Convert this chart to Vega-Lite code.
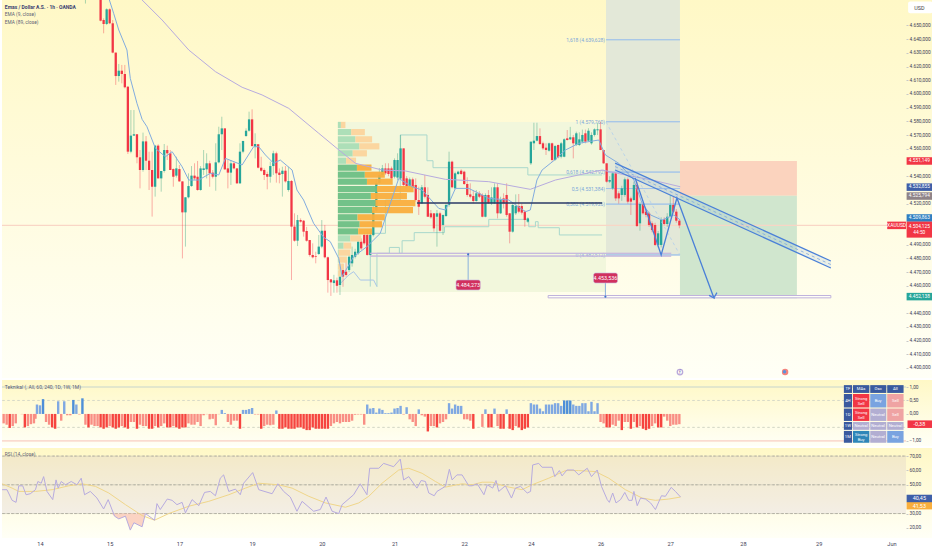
{"$schema":"https://vega.github.io/schema/vega-lite/v6.json","padding":0,"background":"#ffffff","spacing":2,"bounds":"flush",
"config":{"view":{"stroke":null},"text":{"font":"Roboto"},"axis":{"labelFont":"Roboto","labelFontSize":4.8,"labelColor":"#3d3d55","tickColor":"#c8c8c8","tickSize":2,"labelPadding":1,"domain":false,"grid":false,"labelOverlap":false}},
"datasets":{
"candles":[
{"t":15,"o":4680,"h":4682,"l":4666,"c":4680},
{"t":20,"o":4675,"h":4680,"l":4653,"c":4653.5},{"t":21,"o":4654,"h":4655.2,"l":4644.3,"c":4651.1},{"t":22,"o":4651.1,"h":4662.5,"l":4650.3,"c":4661.8},{"t":23,"o":4661.8,"h":4662.5,"l":4651,"c":4651.6},{"t":24,"o":4651.6,"h":4654,"l":4629.7,"c":4630.2},{"t":25,"o":4630.2,"h":4630.2,"l":4606.6,"c":4613.1},{"t":26,"o":4613.1,"h":4621.9,"l":4609,"c":4617},{"t":27,"o":4617,"h":4621.2,"l":4607.8,"c":4614.6},{"t":28,"o":4614.6,"h":4621.2,"l":4604.1,"c":4604.9},{"t":29,"o":4605.3,"h":4605.8,"l":4556.2,"c":4557.9},
{"t":30,"o":4557.9,"h":4588.3,"l":4556.7,"c":4569.6},{"t":31,"o":4569.6,"h":4588.3,"l":4569.5,"c":4570.6},{"t":32,"o":4570.6,"h":4570.6,"l":4549.4,"c":4553.8},{"t":33,"o":4553.8,"h":4559.1,"l":4531.1,"c":4544.5},{"t":34,"o":4544.5,"h":4571.8,"l":4543.3,"c":4565.4},{"t":35,"o":4565.4,"h":4569.3,"l":4544.5,"c":4551.3},{"t":36,"o":4551.3,"h":4557.9,"l":4529.9,"c":4544.5},{"t":37,"o":4544.5,"h":4557.9,"l":4510.5,"c":4532.3},{"t":38,"o":4532.3,"h":4562.8,"l":4525.1,"c":4562.3},{"t":39,"o":4562.3,"h":4563.3,"l":4538.4,"c":4538.4},
{"t":40,"o":4538.4,"h":4543.8,"l":4528.7,"c":4543.8},{"t":41,"o":4543.8,"h":4563.5,"l":4542.6,"c":4559.1},{"t":42,"o":4559.1,"h":4562.3,"l":4551.8,"c":4556.7},{"t":43,"o":4556.7,"h":4559.1,"l":4544.5,"c":4544.5},{"t":44,"o":4545.2,"h":4545.7,"l":4532.3,"c":4539.6},{"t":45,"o":4540.4,"h":4554.2,"l":4539,"c":4545.7},{"t":46,"o":4545.2,"h":4548.2,"l":4536,"c":4536.2},{"t":47,"o":4536.2,"h":4536.2,"l":4480,"c":4513.6},{"t":48,"o":4513.6,"h":4524.6,"l":4488.6,"c":4524.6},{"t":49,"o":4524.6,"h":4542.1,"l":4523.8,"c":4532.8},
{"t":50,"o":4532.8,"h":4547.4,"l":4532.3,"c":4540.4},{"t":51,"o":4540.4,"h":4549.4,"l":4537.2,"c":4538.4},{"t":52,"o":4539.6,"h":4551.1,"l":4529.4,"c":4529.9},{"t":53,"o":4529.9,"h":4547.4,"l":4529.4,"c":4545.7},{"t":54,"o":4544.5,"h":4559.1,"l":4540.9,"c":4545.7},{"t":55,"o":4545,"h":4556.7,"l":4538.4,"c":4549.4},{"t":56,"o":4549.4,"h":4551.3,"l":4532.3,"c":4542.1},{"t":57,"o":4542.6,"h":4544.5,"l":4538.4,"c":4539.6},{"t":58,"o":4539.6,"h":4564,"l":4529.4,"c":4550.1},{"t":59,"o":4550.1,"h":4576.1,"l":4549.4,"c":4570.6},
{"t":60,"o":4570.6,"h":4583.4,"l":4559.1,"c":4574.9},{"t":61,"o":4574.9,"h":4574.9,"l":4544.5,"c":4545},{"t":62,"o":4545.7,"h":4551.8,"l":4531.1,"c":4542.6},{"t":63,"o":4542.6,"h":4551.8,"l":4533.6,"c":4549.4},{"t":64,"o":4549.4,"h":4550.6,"l":4545,"c":4545.7},{"t":65,"o":4545.7,"h":4545.7,"l":4534.3,"c":4534.8},{"t":66,"o":4534.8,"h":4564,"l":4534.3,"c":4557.9},{"t":67,"o":4557.9,"h":4565.9,"l":4556.7,"c":4565.7},{"t":68,"o":4569.3,"h":4574.9,"l":4568.8,"c":4573.2},{"t":69,"o":4573.2,"h":4587.1,"l":4572.5,"c":4581.5},
{"t":70,"o":4581.5,"h":4588.8,"l":4561.5,"c":4562},{"t":71,"o":4561.5,"h":4571.3,"l":4553,"c":4563.5},{"t":72,"o":4563.3,"h":4563.5,"l":4545.7,"c":4546.2},{"t":73,"o":4546.2,"h":4554.2,"l":4543.3,"c":4544},{"t":74,"o":4544.5,"h":4545.7,"l":4537.2,"c":4540.9},{"t":75,"o":4541.6,"h":4543.3,"l":4530.4,"c":4539.6},{"t":76,"o":4539.6,"h":4550.6,"l":4535.3,"c":4547.4},{"t":77,"o":4547.4,"h":4558.6,"l":4540.9,"c":4556.7},{"t":78,"o":4556.7,"h":4557.9,"l":4535.3,"c":4542.1},{"t":79,"o":4542.6,"h":4545.7,"l":4534.8,"c":4540.9},
{"t":80,"o":4541.6,"h":4546.9,"l":4525.1,"c":4544},{"t":81,"o":4544,"h":4547.4,"l":4535.3,"c":4536.2},{"t":82,"o":4529.9,"h":4546.9,"l":4528.7,"c":4536.5},{"t":83,"o":4536.5,"h":4537.2,"l":4464.2,"c":4503.2},{"t":84,"o":4503.2,"h":4512.9,"l":4492.2,"c":4492.9},{"t":85,"o":4492.9,"h":4511.7,"l":4489,"c":4508},{"t":86,"o":4508,"h":4509.2,"l":4506.1,"c":4506.8},{"t":87,"o":4507.5,"h":4508,"l":4495.9,"c":4499.5},{"t":88,"o":4500,"h":4503,"l":4492.2,"c":4492.9},{"t":89,"o":4493.4,"h":4493.4,"l":4481.3,"c":4482.5},
{"t":90,"o":4482.5,"h":4491,"l":4480,"c":4480.8},{"t":91,"o":4481.5,"h":4484.9,"l":4476.4,"c":4481},{"t":92,"o":4483.2,"h":4497.1,"l":4482.5,"c":4488.6},{"t":93,"o":4488.6,"h":4508,"l":4487.4,"c":4500.2},{"t":94,"o":4500.2,"h":4504.4,"l":4480,"c":4480.8},{"t":95,"o":4480.8,"h":4481.3,"l":4455,"c":4464.2},{"t":96,"o":4464.7,"h":4464.7,"l":4452.6,"c":4462.5},{"t":97,"o":4462,"h":4468,"l":4455,"c":4464},{"t":98,"o":4464,"h":4466,"l":4455,"c":4460},{"t":99,"o":4460.6,"h":4474,"l":4453.3,"c":4466.7},
{"t":100,"o":4471.5,"h":4476,"l":4459.3,"c":4466.7},{"t":101,"o":4470.3,"h":4478.8,"l":4466.7,"c":4467.9},{"t":102,"o":4471.5,"h":4483,"l":4470,"c":4481.2},{"t":103,"o":4476.4,"h":4488.6,"l":4474,"c":4482.5},{"t":104,"o":4481.2,"h":4487,"l":4480,"c":4484.9},{"t":105,"o":4483.7,"h":4493.4,"l":4482.5,"c":4492.2},{"t":106,"o":4492.2,"h":4494.6,"l":4486.1,"c":4487.3},{"t":107,"o":4497.1,"h":4499,"l":4490,"c":4491},{"t":108,"o":4497.1,"h":4499,"l":4482,"c":4482.5},{"t":109,"o":4482.5,"h":4500,"l":4482,"c":4497.1},
{"t":110,"o":4497,"h":4518,"l":4496,"c":4515},{"t":111,"o":4515,"h":4538,"l":4514,"c":4535},{"t":112,"o":4535,"h":4546,"l":4534,"c":4540.9},{"t":113,"o":4540.9,"h":4548.2,"l":4540,"c":4545.7},{"t":114,"o":4545.7,"h":4549.4,"l":4541,"c":4542.1},{"t":115,"o":4545.7,"h":4549.4,"l":4540,"c":4541.6},{"t":116,"o":4545.7,"h":4547,"l":4537,"c":4538.4},{"t":117,"o":4539.6,"h":4553,"l":4538.4,"c":4551.8},{"t":118,"o":4539,"h":4556.7,"l":4537,"c":4551.8},{"t":119,"o":4538.4,"h":4570.1,"l":4537.2,"c":4560.3},
{"t":120,"o":4560.3,"h":4560.3,"l":4532.3,"c":4533.6},{"t":121,"o":4538.4,"h":4540,"l":4531,"c":4532.8},{"t":122,"o":4532.8,"h":4539,"l":4532,"c":4537.7},{"t":123,"o":4537.7,"h":4539,"l":4531,"c":4531.9},{"t":124,"o":4533.6,"h":4538.4,"l":4521.4,"c":4522.6},{"t":125,"o":4522.6,"h":4532.3,"l":4511.7,"c":4517.7},{"t":126,"o":4520.2,"h":4533.6,"l":4519.7,"c":4531.9},{"t":127,"o":4531.9,"h":4540.9,"l":4523.8,"c":4525},{"t":128,"o":4526.3,"h":4531.9,"l":4510.4,"c":4510.4},{"t":129,"o":4512.9,"h":4515.3,"l":4509,"c":4510},
{"t":130,"o":4512.9,"h":4512.9,"l":4499.5,"c":4501.9},{"t":131,"o":4510.4,"h":4515.3,"l":4488.6,"c":4512.9},{"t":132,"o":4512.9,"h":4514.1,"l":4499.5,"c":4500.2},{"t":133,"o":4504.4,"h":4512,"l":4497.1,"c":4511.7},{"t":134,"o":4510.9,"h":4520.2,"l":4510.4,"c":4519},{"t":135,"o":4519,"h":4557.9,"l":4517.7,"c":4550.6},{"t":136,"o":4550.6,"h":4551.3,"l":4531.1,"c":4531.9},{"t":137,"o":4531.1,"h":4543.3,"l":4530.4,"c":4542.1},{"t":138,"o":4541.6,"h":4544,"l":4540.9,"c":4543.3},{"t":139,"o":4544,"h":4545,"l":4540.9,"c":4541.6},
{"t":140,"o":4543.3,"h":4544,"l":4533.6,"c":4534.3},{"t":141,"o":4534.3,"h":4539.2,"l":4525,"c":4526.3},{"t":142,"o":4526.7,"h":4534.8,"l":4523.8,"c":4525},{"t":143,"o":4525.5,"h":4529.9,"l":4520.2,"c":4521.9},{"t":144,"o":4521.9,"h":4529.9,"l":4521.4,"c":4527.5},{"t":145,"o":4527.5,"h":4529,"l":4524,"c":4525},{"t":146,"o":4526.3,"h":4527.5,"l":4510,"c":4510.4},{"t":147,"o":4510.4,"h":4527.5,"l":4510,"c":4526.3},{"t":148,"o":4526.3,"h":4529.9,"l":4519.7,"c":4520.2},{"t":149,"o":4520.2,"h":4531.9,"l":4519,"c":4524.5},
{"t":150,"o":4520.2,"h":4534.8,"l":4519.7,"c":4531.9},{"t":151,"o":4531.9,"h":4534.8,"l":4509.2,"c":4512.9},{"t":152,"o":4512.9,"h":4525,"l":4512.4,"c":4522.6},{"t":153,"o":4523.8,"h":4527.5,"l":4516.5,"c":4520.2},{"t":154,"o":4526.3,"h":4534.8,"l":4510.4,"c":4511.7},{"t":155,"o":4512.9,"h":4512.9,"l":4491,"c":4499.5},{"t":156,"o":4499.5,"h":4520.2,"l":4498.8,"c":4519},{"t":157,"o":4512.9,"h":4526.7,"l":4511.7,"c":4518.2},{"t":158,"o":4518.2,"h":4527,"l":4512.9,"c":4514.1},{"t":159,"o":4518.2,"h":4520,"l":4512,"c":4513.4},
{"t":160,"o":4514.1,"h":4515.3,"l":4503.1,"c":4508},{"t":161,"o":4506.8,"h":4510,"l":4506,"c":4509.2},{"t":162,"o":4549.4,"h":4565.2,"l":4548.2,"c":4565.2},{"t":163,"o":4564,"h":4579,"l":4559.1,"c":4565.9},{"t":164,"o":4565.9,"h":4579,"l":4565.4,"c":4569.3},{"t":165,"o":4569.3,"h":4574.9,"l":4562.8,"c":4563.5},{"t":166,"o":4564,"h":4565.2,"l":4559.1,"c":4560.3},{"t":167,"o":4560.8,"h":4564,"l":4555.5,"c":4559.1},{"t":168,"o":4558.6,"h":4564.5,"l":4557.9,"c":4564},{"t":169,"o":4564,"h":4564.5,"l":4550.6,"c":4551.8},
{"t":170,"o":4551.8,"h":4562.8,"l":4551.3,"c":4562},{"t":171,"o":4562.8,"h":4563,"l":4553,"c":4553.8},{"t":172,"o":4554.2,"h":4565,"l":4553,"c":4564},{"t":173,"o":4554.2,"h":4567.6,"l":4553.8,"c":4566.9},{"t":174,"o":4567.6,"h":4573.7,"l":4566,"c":4566.4},{"t":175,"o":4566.9,"h":4576,"l":4566.4,"c":4568.4},{"t":176,"o":4568.4,"h":4570.1,"l":4553,"c":4564},{"t":177,"o":4562.8,"h":4572.5,"l":4562,"c":4571.3},{"t":178,"o":4562.8,"h":4572,"l":4562,"c":4566.9},{"t":179,"o":4565.2,"h":4574,"l":4564,"c":4570.1},
{"t":180,"o":4571.3,"h":4574,"l":4564,"c":4565.2},{"t":181,"o":4565.9,"h":4575,"l":4565,"c":4573.2},{"t":182,"o":4564,"h":4572,"l":4563,"c":4570.1},{"t":183,"o":4570.1,"h":4574.9,"l":4569,"c":4574.2},{"t":184,"o":4573.5,"h":4579,"l":4570,"c":4574.2},{"t":185,"o":4574.2,"h":4579.7,"l":4559,"c":4559.1},{"t":186,"o":4559.1,"h":4559.1,"l":4549,"c":4549.4},{"t":187,"o":4549.4,"h":4549.4,"l":4535.3,"c":4536},{"t":188,"o":4536,"h":4540,"l":4535,"c":4537.2},{"t":189,"o":4531.1,"h":4543,"l":4530,"c":4542.1},
{"t":190,"o":4542.1,"h":4543,"l":4522,"c":4523.8},{"t":191,"o":4527.5,"h":4529,"l":4520,"c":4523.8},{"t":192,"o":4526.3,"h":4533,"l":4522,"c":4531.1},{"t":193,"o":4526.3,"h":4539,"l":4525,"c":4537.7},{"t":194,"o":4537.7,"h":4539,"l":4520,"c":4521.4},{"t":195,"o":4523.8,"h":4525,"l":4511.7,"c":4521.4},{"t":196,"o":4522.6,"h":4536,"l":4522,"c":4533.6},{"t":197,"o":4533.6,"h":4536,"l":4503,"c":4503.6},{"t":198,"o":4505.6,"h":4521,"l":4500.2,"c":4519.7},{"t":199,"o":4519.7,"h":4521,"l":4512,"c":4512.9},
{"t":200,"o":4514.1,"h":4516,"l":4510,"c":4511.7},{"t":201,"o":4512.9,"h":4514,"l":4503,"c":4504.4},{"t":202,"o":4505.6,"h":4507,"l":4499,"c":4500.7},{"t":203,"o":4504.4,"h":4506,"l":4489,"c":4489.8},{"t":204,"o":4489.8,"h":4500,"l":4488,"c":4498.3},{"t":205,"o":4489.8,"h":4510,"l":4488,"c":4508},{"t":206,"o":4508.5,"h":4510,"l":4504,"c":4505.1},{"t":207,"o":4505.1,"h":4513,"l":4503,"c":4510.4},{"t":208,"o":4510.4,"h":4526.3,"l":4510,"c":4519},{"t":209,"o":4519,"h":4525,"l":4513,"c":4514.1},{"t":210,"o":4514.1,"h":4516,"l":4506,"c":4507.5},{"t":211,"o":4507.5,"h":4508,"l":4502,"c":4504.1}],
"ema9":[{"t":22.9,"p":4668.6},{"t":24.3,"p":4658.9},{"t":26,"p":4646.7},{"t":28.7,"p":4632.1},{"t":29.8,"p":4611.4},{"t":32,"p":4593.2},{"t":33.7,"p":4581.5},{"t":35.3,"p":4576.1},{"t":38.1,"p":4560.3},{"t":41.4,"p":4554.2},{"t":43.6,"p":4557.9},{"t":46.9,"p":4546.9},{"t":49.1,"p":4537.2},{"t":52.4,"p":4537.2},{"t":56.2,"p":4542.1},{"t":59,"p":4540.9},{"t":61.2,"p":4553},{"t":66.7,"p":4548.2},{"t":70.5,"p":4561.5},{"t":72.2,"p":4561.5},{"t":74.4,"p":4555.5},{"t":77.1,"p":4549.4},{"t":79.3,"p":4551.8},{"t":83.2,"p":4544.5},{"t":84.8,"p":4529.9},{"t":87,"p":4522.6},{"t":90.3,"p":4505.6},{"t":93.6,"p":4495.4},{"t":95.8,"p":4492.2},{"t":98.6,"p":4480},{"t":99.7,"p":4466.7},{"t":103.5,"p":4481.2},{"t":107.9,"p":4488.6},{"t":112.3,"p":4498.3},{"t":118.4,"p":4538.4},{"t":122.8,"p":4532.3},{"t":126.1,"p":4529.9},{"t":131.6,"p":4516.5},{"t":133.8,"p":4515.3},{"t":135.4,"p":4522.6},{"t":137.1,"p":4531.1},{"t":141.5,"p":4531.1},{"t":144.8,"p":4527.5},{"t":148.1,"p":4523.8},{"t":154.7,"p":4522.6},{"t":160.2,"p":4514.1},{"t":161.8,"p":4515.3},{"t":164,"p":4537.2},{"t":165.7,"p":4544.5},{"t":170.1,"p":4552.3},{"t":173.4,"p":4559.1},{"t":177.8,"p":4564},{"t":184.4,"p":4566.4},{"t":186.6,"p":4555.5},{"t":191,"p":4549.4},{"t":196,"p":4537.2},{"t":198.7,"p":4520.2},{"t":201.5,"p":4511.7},{"t":205.3,"p":4508},{"t":209.2,"p":4511.7},{"t":211.3,"p":4508}],
"ema89":[{"t":33.7,"p":4668.6},{"t":40.3,"p":4654},{"t":49.1,"p":4632.1},{"t":57.9,"p":4616.3},{"t":66.7,"p":4604.9},{"t":73.3,"p":4599.3},{"t":82.1,"p":4589.5},{"t":92,"p":4571.3},{"t":98,"p":4560.3},{"t":104.1,"p":4549.4},{"t":112.9,"p":4544.5},{"t":120.6,"p":4543.8},{"t":133.8,"p":4537.7},{"t":148.1,"p":4536},{"t":161.8,"p":4530.4},{"t":170.1,"p":4537.2},{"t":177.8,"p":4540.9},{"t":185.5,"p":4544.5},{"t":193.2,"p":4540.9},{"t":202,"p":4537.2},{"t":211.3,"p":4532.3}],
"steps":[{"id":"a","i":0,"t":109,"p":4459.4},{"id":"a","i":1,"t":109,"p":4498.3},{"id":"a","i":2,"t":114,"p":4498.3},{"id":"a","i":3,"t":114,"p":4522.6},{"id":"a","i":4,"t":118.9,"p":4522.6},{"id":"a","i":5,"t":118.9,"p":4570.1},{"id":"a","i":6,"t":127.7,"p":4570.1},{"id":"a","i":7,"t":127.7,"p":4551.3},{"id":"a","i":8,"t":129.7,"p":4551.3},{"id":"a","i":9,"t":129.7,"p":4546.2},{"id":"a","i":10,"t":161,"p":4546.2},{"id":"a","i":11,"t":161,"p":4540.9},{"id":"a","i":12,"t":185.5,"p":4540.9},
{"id":"b","i":0,"t":111.2,"p":4459.4},{"id":"b","i":1,"t":111.2,"p":4483.7},{"id":"b","i":2,"t":115.3,"p":4483.7},{"id":"b","i":3,"t":115.3,"p":4488},{"id":"b","i":4,"t":118.6,"p":4488},{"id":"b","i":5,"t":118.6,"p":4483.7},{"id":"b","i":6,"t":119.5,"p":4483.7},{"id":"b","i":7,"t":119.5,"p":4492.9},{"id":"b","i":8,"t":123.5,"p":4492.9},{"id":"b","i":9,"t":123.5,"p":4498.8},{"id":"b","i":10,"t":133.5,"p":4498.8},{"id":"b","i":11,"t":133.5,"p":4503.1},{"id":"b","i":12,"t":148.1,"p":4503.1},{"id":"b","i":13,"t":148.1,"p":4508.5},{"id":"b","i":14,"t":161.3,"p":4508.5},{"id":"b","i":15,"t":161.3,"p":4503.1},{"id":"b","i":16,"t":163.5,"p":4503.1},{"id":"b","i":17,"t":163.5,"p":4506.8},{"id":"b","i":18,"t":164.4,"p":4506.8},{"id":"b","i":19,"t":164.4,"p":4502.4},{"id":"b","i":20,"t":171.4,"p":4502.4},{"id":"b","i":21,"t":171.4,"p":4497.1},{"id":"b","i":22,"t":185.5,"p":4497.1},
{"id":"c","i":0,"t":98.6,"p":4460.6},{"id":"c","i":1,"t":101.9,"p":4467.9},{"id":"c","i":2,"t":103.5,"p":4470.3},{"id":"c","i":3,"t":105.7,"p":4464.2},{"id":"c","i":4,"t":110.1,"p":4464.2},{"id":"c","i":5,"t":111.2,"p":4459.4}],
"blue":[{"id":"z","i":0,"t":196.4,"p":4538.7},{"id":"z","i":1,"t":205,"p":4482.5},{"id":"z","i":2,"t":210.2,"p":4524.1},{"id":"z","i":3,"t":222.4,"p":4451.1},{"id":"z","i":4,"t":220.8,"p":4453},{"id":"z","i":5,"t":222.4,"p":4451.1},{"id":"z","i":6,"t":223.4,"p":4455},{"id":"u","i":0,"t":189.8,"p":4549.6},{"id":"u","i":1,"t":261,"p":4478.1},{"id":"l","i":0,"t":189.8,"p":4544.5},{"id":"l","i":1,"t":261,"p":4473}],
"channel":[{"t":189.8,"p":4549.6,"q":4544.5},{"t":261,"p":4478.1,"q":4473}],
"boxes":[{"k":"vp","t":98.3,"t2":186.8,"p":4579.6,"p2":4455.5},{"k":"fib","t":186.8,"t2":211.2,"p":4668.6,"p2":4482.5},{"k":"short","t":211.2,"t2":249.8,"p":4551.1,"p2":4525.8},{"k":"long","t":211.2,"t2":249.8,"p":4525.8,"p2":4451}],
"vol":[{"hi":4579.66,"lo":4575.14,"g":99.3,"o":100.8,"a":"out"},{"hi":4574.46,"lo":4569.94,"g":102.7,"o":107.2,"a":"out"},{"hi":4569.16,"lo":4564.64,"g":104.1,"o":109.6,"a":"out"},{"hi":4564.06,"lo":4559.54,"g":105.4,"o":112,"a":"out"},{"hi":4558.96,"lo":4554.44,"g":103.2,"o":107.9,"a":"out"},{"hi":4553.56,"lo":4549.04,"g":101,"o":104.3,"a":"out"},{"hi":4548.46,"lo":4543.94,"g":104.6,"o":109.4,"a":"in"},{"hi":4543.36,"lo":4538.84,"g":107.2,"o":113.8,"a":"in"},{"hi":4538.26,"lo":4533.74,"g":107.9,"o":116.4,"a":"in"},{"hi":4532.86,"lo":4528.34,"g":111.2,"o":123.3,"a":"in"},{"hi":4527.76,"lo":4523.24,"g":109.2,"o":121.1,"a":"in"},{"hi":4522.66,"lo":4518.14,"g":110.7,"o":123.9,"a":"in"},{"hi":4517.56,"lo":4513.04,"g":109.6,"o":123.1,"a":"in"},{"hi":4512.26,"lo":4507.74,"g":104.8,"o":113.8,"a":"in"},{"hi":4507.16,"lo":4502.64,"g":105.5,"o":112.9,"a":"in"},{"hi":4501.96,"lo":4497.44,"g":105,"o":109.6,"a":"in"},{"hi":4496.86,"lo":4492.34,"g":102.4,"o":106,"a":"out"},{"hi":4491.56,"lo":4487.04,"g":100.2,"o":102.7,"a":"out"},{"hi":4486.46,"lo":4481.94,"g":98.6,"o":102.4,"a":"out"},{"hi":4481.36,"lo":4476.84,"g":98.6,"o":101.3,"a":"out"},{"hi":4476.26,"lo":4471.74,"g":98.4,"o":100.2,"a":"out"},{"hi":4471.36,"lo":4466.84,"g":98.4,"o":99.5,"a":"out"}],
"fibs":[{"p":4639.6,"l":"1,618 (4.639,628)"},{"p":4579.76,"l":"1 (4.579,760)"},{"p":4543,"l":"0,618 (4.542,792)"},{"p":4531,"l":"0,5 (4.531,384)"},{"p":4519.6,"l":"0,382 (4.519,926)"},{"p":4482.5,"l":"0 (4.482,512)"}],
"tags":[{"hi":4553.84,"lo":4548.36,"p":4551.1,"l":"4.551,149","k":"red"},{"hi":4534.74,"lo":4529.26,"p":4532,"l":"4.532,855","k":"navy"},{"hi":4528.24,"lo":4522.76,"p":4525.5,"l":"4.525,794","k":"grey"},{"hi":4512.24,"lo":4506.76,"p":4509.5,"l":"4.509,863","k":"blue"},{"hi":4454.84,"lo":4449.36,"p":4452.1,"l":"4.452,138","k":"teal"}],
"osc":[{"t":-12,"v":-0.35},{"t":-11,"v":-0.4},{"t":-10,"v":-0.52},{"t":-9,"v":-0.45},{"t":-8,"v":-0.35},{"t":-6,"v":-0.01},{"t":-5,"v":-0.5},{"t":-4,"v":-0.45},{"t":-3,"v":-0.38},{"t":-2,"v":-0.35},{"t":-1.5,"v":-0.18},{"t":-1,"v":0.35},{"t":0,"v":0.32},{"t":1,"v":0.55},{"t":2,"v":-0.3},{"t":3,"v":-0.4},{"t":4,"v":-0.5},{"t":5,"v":-0.55},{"t":6,"v":0.47},{"t":7,"v":-0.25},{"t":8,"v":0.47},{"t":9,"v":-0.05},{"t":10,"v":-0.05},{"t":11,"v":0.52},{"t":12,"v":0.35},{"t":13,"v":-0.02},{"t":14,"v":0.58},{"t":15,"v":-0.4},{"t":16,"v":-0.5},{"t":17,"v":-0.4},{"t":18,"v":-0.45},{"t":19,"v":-0.45},{"t":20,"v":-0.5},{"t":21,"v":-0.55},{"t":22,"v":-0.5},{"t":23,"v":-0.45},{"t":24,"v":-0.5},{"t":25,"v":-0.55},{"t":26,"v":-0.5},{"t":27,"v":-0.45},{"t":28,"v":-0.5},{"t":29,"v":-0.55},{"t":30,"v":-0.3},{"t":31,"v":-0.3},{"t":32,"v":-0.55},{"t":33,"v":-0.4},{"t":34,"v":-0.45},{"t":35,"v":-0.45},{"t":36,"v":-0.55},{"t":37,"v":-0.55},{"t":38,"v":-0.45},{"t":39,"v":-0.5},{"t":40,"v":-0.45},{"t":41,"v":-0.35},{"t":42,"v":-0.5},{"t":43,"v":-0.5},{"t":44,"v":-0.45},{"t":45,"v":-0.5},{"t":46,"v":-0.55},{"t":47,"v":-0.5},{"t":48,"v":-0.5},{"t":49,"v":-0.35},{"t":50,"v":-0.4},{"t":51,"v":-0.4},{"t":52,"v":-0.3},{"t":53,"v":-0.45},{"t":54,"v":-0.05},{"t":55,"v":-0.01},{"t":56,"v":-0.2},{"t":57,"v":-0.18},{"t":58,"v":-0.42},{"t":59,"v":-0.01},{"t":60,"v":0.15},{"t":61,"v":0.03},{"t":62,"v":-0.3},{"t":63,"v":-0.4},{"t":64,"v":-0.25},{"t":65,"v":-0.25},{"t":66,"v":-0.55},{"t":67,"v":0.15},{"t":68,"v":0.15},{"t":69,"v":0.18},{"t":70,"v":0.22},{"t":71,"v":-0.02},{"t":72,"v":-0.02},{"t":73,"v":-0.55},{"t":74,"v":-0.45},{"t":75,"v":-0.4},{"t":76,"v":-0.42},{"t":77,"v":-0.4},{"t":78,"v":0.13},{"t":79,"v":-0.55},{"t":80,"v":-0.55},{"t":81,"v":-0.5},{"t":82,"v":-0.55},{"t":83,"v":-0.55},{"t":84,"v":-0.55},{"t":85,"v":-0.5},{"t":86,"v":-0.5},{"t":87,"v":-0.55},{"t":88,"v":-0.6},{"t":89,"v":-0.6},{"t":90,"v":-0.5},{"t":91,"v":-0.55},{"t":92,"v":-0.55},{"t":93,"v":-0.55},{"t":94,"v":-0.55},{"t":95,"v":-0.55},{"t":96,"v":-0.45},{"t":97,"v":-0.35},{"t":98,"v":-0.3},{"t":99,"v":-0.35},{"t":100,"v":-0.3},{"t":101,"v":-0.3},{"t":102,"v":-0.3},{"t":103,"v":-0.25},{"t":104,"v":-0.03},{"t":105,"v":-0.02},{"t":106,"v":-0.02},{"t":107,"v":-0.4},{"t":108,"v":0.35},{"t":109,"v":0.2},{"t":110,"v":0.22},{"t":111,"v":0.05},{"t":112,"v":0.2},{"t":113,"v":0.15},{"t":114,"v":0.03},{"t":115,"v":0.03},{"t":116,"v":0.05},{"t":117,"v":0.2},{"t":118,"v":0.22},{"t":119,"v":0.3},{"t":120,"v":-0.02},{"t":121,"v":0.25},{"t":122,"v":-0.2},{"t":123,"v":-0.3},{"t":124,"v":-0.45},{"t":125,"v":0.17},{"t":126,"v":-0.05},{"t":127,"v":-0.1},{"t":128,"v":-0.65},{"t":129,"v":-0.45},{"t":130,"v":-0.45},{"t":131,"v":-0.5},{"t":132,"v":-0.35},{"t":133,"v":-0.3},{"t":134,"v":-0.2},{"t":135,"v":0.4},{"t":136,"v":0.2},{"t":137,"v":0.35},{"t":138,"v":0.3},{"t":139,"v":0.3},{"t":140,"v":-0.2},{"t":141,"v":-0.2},{"t":142,"v":-0.25},{"t":143,"v":-0.55},{"t":146,"v":-0.48},{"t":147,"v":0.17},{"t":148,"v":-0.5},{"t":149,"v":-0.5},{"t":150,"v":0.2},{"t":151,"v":-0.45},{"t":152,"v":-0.55},{"t":153,"v":-0.55},{"t":154,"v":0.17},{"t":155,"v":-0.55},{"t":156,"v":-0.6},{"t":157,"v":-0.45},{"t":158,"v":-0.5},{"t":159,"v":-0.6},{"t":160,"v":-0.55},{"t":161,"v":-0.5},{"t":162,"v":0.4},{"t":163,"v":0.35},{"t":164,"v":0.35},{"t":165,"v":0.2},{"t":166,"v":0.1},{"t":167,"v":0.35},{"t":168,"v":0.35},{"t":169,"v":0.35},{"t":170,"v":0.4},{"t":171,"v":0.4},{"t":172,"v":0.3},{"t":173,"v":0.5},{"t":174,"v":0.5},{"t":175,"v":0.5},{"t":176,"v":0.35},{"t":177,"v":0.3},{"t":178,"v":0.3},{"t":179,"v":0.4},{"t":180,"v":0.4},{"t":181,"v":0.1},{"t":182,"v":0.45},{"t":183,"v":0.1},{"t":184,"v":0.4},{"t":185,"v":-0.3},{"t":186,"v":-0.35},{"t":187,"v":-0.5},{"t":188,"v":-0.5},{"t":189,"v":-0.4},{"t":190,"v":-0.45},{"t":191,"v":-0.25},{"t":192,"v":-0.6},{"t":193,"v":-0.3},{"t":194,"v":-0.3},{"t":195,"v":-0.55},{"t":196,"v":-0.3},{"t":197,"v":-0.5},{"t":198,"v":-0.45},{"t":199,"v":-0.55},{"t":200,"v":-0.6},{"t":201,"v":-0.55},{"t":202,"v":-0.45},{"t":203,"v":-0.35},{"t":204,"v":-0.5},{"t":205,"v":-0.5},{"t":206,"v":-0.1},{"t":207,"v":-0.25},{"t":208,"v":-0.45},{"t":209,"v":-0.4},{"t":210,"v":-0.4},{"t":211,"v":-0.38}],
"cells":[{"k":"nav","l":"TF","t":265.3,"t2":268,"v":1.07,"v2":0.78,"tc":266.6,"vc":0.92},{"k":"nav","l":"MAs","t":268.3,"t2":273.7,"v":1.07,"v2":0.78,"tc":271,"vc":0.92},{"k":"nav","l":"Osc","t":274,"t2":279.3,"v":1.07,"v2":0.78,"tc":276.6,"vc":0.92},{"k":"nav","l":"All","t":279.6,"t2":285,"v":1.07,"v2":0.78,"tc":282.3,"vc":0.92},
{"k":"nav","l":"4H","t":265.3,"t2":268,"v":0.74,"v2":0.24,"tc":266.6,"vc":0.49},{"k":"ss","l":"Strong\nSell","t":268.3,"t2":273.7,"v":0.74,"v2":0.24,"tc":271,"vc":0.55},{"k":"buy","l":"Buy","t":274,"t2":279.3,"v":0.74,"v2":0.24,"tc":276.6,"vc":0.49},{"k":"sell","l":"Sell","t":279.6,"t2":285,"v":0.74,"v2":0.24,"tc":282.3,"vc":0.49},
{"k":"nav","l":"1D","t":265.3,"t2":268,"v":0.2,"v2":-0.26,"tc":266.6,"vc":-0.03},{"k":"ss","l":"Strong\nSell","t":268.3,"t2":273.7,"v":0.2,"v2":-0.26,"tc":271,"vc":0.03},{"k":"neu","l":"Neutral","t":274,"t2":279.3,"v":0.2,"v2":-0.26,"tc":276.6,"vc":-0.03},{"k":"sell","l":"Sell","t":279.6,"t2":285,"v":0.2,"v2":-0.26,"tc":282.3,"vc":-0.03},
{"k":"nav","l":"1W","t":265.3,"t2":268,"v":-0.3,"v2":-0.59,"tc":266.6,"vc":-0.44},{"k":"neu","l":"Neutral","t":268.3,"t2":273.7,"v":-0.3,"v2":-0.59,"tc":271,"vc":-0.44},{"k":"neu","l":"Neutral","t":274,"t2":279.3,"v":-0.3,"v2":-0.59,"tc":276.6,"vc":-0.44},{"k":"neu","l":"Neutral","t":279.6,"t2":285,"v":-0.3,"v2":-0.59,"tc":282.3,"vc":-0.44},
{"k":"nav","l":"1M","t":265.3,"t2":268,"v":-0.63,"v2":-1.07,"tc":266.6,"vc":-0.85},{"k":"sb","l":"Strong\nBuy","t":268.3,"t2":273.7,"v":-0.63,"v2":-1.07,"tc":271,"vc":-0.79},{"k":"neu","l":"Neutral","t":274,"t2":279.3,"v":-0.63,"v2":-1.07,"tc":276.6,"vc":-0.85},{"k":"buy","l":"Buy","t":279.6,"t2":285,"v":-0.63,"v2":-1.07,"tc":282.3,"vc":-0.85}],
"rsi":[{"t":-12.5,"v":46.6},{"t":-10.9,"v":46.6},{"t":-9.2,"v":39.2},{"t":-7.9,"v":37.8},{"t":-7,"v":49.3},{"t":-5.7,"v":49.3},{"t":-4.6,"v":43.1},{"t":-3.2,"v":43.8},{"t":-1.5,"v":46.6},{"t":-0.7,"v":52.3},{"t":0.4,"v":51.1},{"t":1.2,"v":55.7},{"t":2.3,"v":45.4},{"t":4.2,"v":39.7},{"t":5.3,"v":53.4},{"t":6,"v":47.7},{"t":7,"v":52.3},{"t":8.4,"v":50},{"t":10.3,"v":52.3},{"t":12.2,"v":50},{"t":13.6,"v":54.6},{"t":14.7,"v":43.1},{"t":16.6,"v":45.4},{"t":18.8,"v":40.8},{"t":21,"v":33.2},{"t":22.5,"v":39.7},{"t":24.6,"v":28.2},{"t":26,"v":26.3},{"t":28.2,"v":28.2},{"t":29.8,"v":18.5},{"t":31,"v":23.6},{"t":33.7,"v":20.8},{"t":34.8,"v":30},{"t":37.8,"v":25.4},{"t":38.6,"v":36.9},{"t":39.7,"v":32.8},{"t":42,"v":40.1},{"t":43.6,"v":39.2},{"t":45.2,"v":36.2},{"t":46.9,"v":37.8},{"t":48,"v":30.5},{"t":50.2,"v":39.7},{"t":52.4,"v":35.5},{"t":54.3,"v":44.7},{"t":56.2,"v":45.4},{"t":57.9,"v":42.4},{"t":59.5,"v":54.6},{"t":60.6,"v":56.9},{"t":62.3,"v":45.4},{"t":64.5,"v":47},{"t":66.1,"v":43.1},{"t":67.2,"v":51.1},{"t":70.2,"v":58.5},{"t":72.2,"v":46.6},{"t":76.6,"v":43.8},{"t":78.5,"v":50.7},{"t":80.4,"v":45.4},{"t":82.6,"v":41.5},{"t":84.8,"v":31.6},{"t":86.5,"v":38.5},{"t":90.3,"v":31.6},{"t":92.5,"v":32.8},{"t":94.4,"v":41.5},{"t":96.4,"v":31.6},{"t":98.6,"v":30},{"t":99.7,"v":36.2},{"t":103.5,"v":43.1},{"t":105.7,"v":50.7},{"t":107.9,"v":43.1},{"t":108.8,"v":61.5},{"t":111.8,"v":61.5},{"t":113.4,"v":64.9},{"t":116.7,"v":62.6},{"t":118.9,"v":67.9},{"t":120,"v":53.4},{"t":121.7,"v":55.7},{"t":124.4,"v":47.7},{"t":125.8,"v":53},{"t":127.2,"v":52.3},{"t":128.3,"v":44.3},{"t":130.1,"v":42.4},{"t":131,"v":45.4},{"t":133.8,"v":48.9},{"t":135.1,"v":60.8},{"t":136,"v":53.4},{"t":137.6,"v":56.9},{"t":139.3,"v":56.9},{"t":141.5,"v":49.3},{"t":142.6,"v":49.3},{"t":144.3,"v":50.7},{"t":146.5,"v":43.1},{"t":147.6,"v":50},{"t":149.4,"v":47.7},{"t":150.5,"v":53},{"t":151.4,"v":45.4},{"t":153.6,"v":49.3},{"t":155.6,"v":40.8},{"t":156.9,"v":47.7},{"t":158.6,"v":48.9},{"t":160.8,"v":44.3},{"t":161.9,"v":45.4},{"t":162.6,"v":63.8},{"t":164.6,"v":64.9},{"t":165.7,"v":62.2},{"t":169,"v":62.2},{"t":169.9,"v":55.7},{"t":171.4,"v":59.9},{"t":172.3,"v":56.2},{"t":173.9,"v":60.3},{"t":176.2,"v":60.3},{"t":177.8,"v":56.9},{"t":180.6,"v":61.5},{"t":182,"v":55.7},{"t":183.9,"v":60.3},{"t":185.3,"v":48.9},{"t":187.2,"v":39.7},{"t":187.9,"v":37.8},{"t":189,"v":44.3},{"t":190.1,"v":37.4},{"t":191.6,"v":39.7},{"t":193,"v":44.7},{"t":194.3,"v":39.2},{"t":195.4,"v":39.2},{"t":196,"v":45.4},{"t":197.1,"v":35.5},{"t":198.2,"v":40.8},{"t":199.8,"v":40.1},{"t":201.5,"v":37.4},{"t":203.1,"v":32.8},{"t":205.1,"v":42.4},{"t":206.4,"v":42},{"t":208.3,"v":48.2},{"t":209.7,"v":45.4},{"t":211.4,"v":41.5}],
"signal":[{"t":-12.5,"v":50.7},{"t":-9.2,"v":47.7},{"t":-7,"v":45.4},{"t":-1.5,"v":45.4},{"t":4,"v":46.6},{"t":9.5,"v":49.3},{"t":13.9,"v":50.7},{"t":18.3,"v":48.9},{"t":22.7,"v":44.3},{"t":28.2,"v":36.2},{"t":33.7,"v":28.6},{"t":37.8,"v":25.4},{"t":42.5,"v":30},{"t":49.1,"v":35.1},{"t":55.7,"v":38.5},{"t":62.3,"v":43.1},{"t":67.8,"v":47.7},{"t":72.2,"v":51.1},{"t":78.8,"v":50},{"t":83.2,"v":47.7},{"t":88.7,"v":42},{"t":94.2,"v":37.4},{"t":100.8,"v":34.4},{"t":105.2,"v":37.4},{"t":108.5,"v":42},{"t":112.9,"v":51.1},{"t":118.4,"v":60.3},{"t":121.7,"v":61.5},{"t":126.1,"v":58},{"t":130.5,"v":52.3},{"t":133.8,"v":48.4},{"t":139.3,"v":50.7},{"t":142.6,"v":50},{"t":145.9,"v":51.8},{"t":149.2,"v":51.8},{"t":153.6,"v":48.9},{"t":159.1,"v":46.6},{"t":162.4,"v":50},{"t":167.9,"v":54.6},{"t":173.4,"v":59.9},{"t":177.8,"v":59.9},{"t":183.3,"v":59.2},{"t":187.7,"v":54.6},{"t":193.2,"v":46.6},{"t":198.7,"v":40.8},{"t":203.1,"v":39.2},{"t":207.5,"v":40.1},{"t":211.4,"v":41.5}],
"oversold":[{"t":23.6,"v":30},{"t":24.6,"v":28.2},{"t":26,"v":26.3},{"t":28.2,"v":28.2},{"t":29.8,"v":18.5},{"t":31,"v":23.6},{"t":33.7,"v":20.8},{"t":34.8,"v":30}]
},
"vconcat":[
{"width":904,"height":378,"encoding":{"x":{"type":"quantitative","title":null,"axis":null,"scale":{"domain":[-12.54,285.8],"nice":false,"zero":false}},"y":{"type":"quantitative","title":null,"scale":{"domain":[4392.7,4668.6],"nice":false,"zero":false},"axis":{"orient":"right","zindex":1,"values":[4400,4410,4420,4430,4440,4460,4470,4480,4490,4540,4520,4560,4570,4580,4590,4600,4610,4620,4630,4640,4650],"labelExpr":"'4.' + format(datum.value-4000,'03d') + ',000'"}}},
"layer":[
{"data":{"values":[{}]},"mark":{"type":"rect","clip":false,"fill":{"gradient":"linear","x1":0,"y1":0,"x2":0,"y2":1,"stops":[{"offset":0,"color":"#FFF8C6"},{"offset":1,"color":"#FFFFF6"}]}},"encoding":{"x":{"datum":-12.54},"x2":{"datum":295},"y":{"datum":4668.6},"y2":{"datum":4392.7}}},
{"data":{"name":"boxes"},"mark":{"type":"rect"},"encoding":{"x":{"field":"t"},"x2":{"field":"t2"},"y":{"field":"p"},"y2":{"field":"p2"},"fill":{"condition":[{"test":"datum.k=='vp'","value":"#F2F7DC"},{"test":"datum.k=='fib'","value":"#E3E8D8"},{"test":"datum.k=='short'","value":"#FBD3BE"}],"value":"#D0E6CE"}}},
{"data":{"values":[{}]},"mark":{"type":"rect","fill":"transparent","stroke":"#F9D5C5","strokeWidth":1},"encoding":{"x":{"datum":-12.54},"x2":{"datum":285.8},"y":{"datum":4504.1},"y2":{"datum":4504.1}}},
{"data":{"name":"fibs"},"mark":{"type":"rect","fill":"transparent","stroke":"#A6C6E8","strokeWidth":1},"encoding":{"x":{"datum":186.8},"x2":{"datum":211.2},"y":{"field":"p"},"y2":{"field":"p"}}},
{"data":{"name":"fibs"},"mark":{"type":"text","align":"right","baseline":"middle","dx":-1,"fontSize":5,"color":"#7BA7DA"},"encoding":{"x":{"datum":186.8},"y":{"field":"p"},"text":{"field":"l"}}},
{"data":{"name":"steps"},"transform":[{"filter":"datum.id!='c'"}],"mark":{"type":"line","color":"#A9D8CC","strokeWidth":1},"encoding":{"x":{"field":"t"},"y":{"field":"p"},"detail":{"field":"id"},"order":{"field":"i"}}},
{"data":{"name":"steps"},"transform":[{"filter":"datum.id=='c'"}],"mark":{"type":"line","color":"#A9C6E8","strokeWidth":1},"encoding":{"x":{"field":"t"},"y":{"field":"p"},"order":{"field":"i"}}},
{"data":{"name":"candles"},"mark":{"type":"rule","strokeWidth":1,"clip":true,"opacity":0.4},"encoding":{"x":{"field":"t"},"y":{"field":"h"},"y2":{"field":"l"},"color":{"condition":{"test":"datum.c<datum.o","value":"#F23645"},"value":"#2E9E7A"}}},
{"data":{"name":"candles"},"mark":{"type":"rule","strokeWidth":2.3,"clip":true},"encoding":{"x":{"field":"t"},"y":{"field":"o"},"y2":{"field":"c"},"color":{"condition":{"test":"datum.c<datum.o","value":"#F23645"},"value":"#26A69A"}}},
{"data":{"name":"vol"},"mark":{"type":"rect","opacity":0.95},"encoding":{"x":{"field":"g"},"x2":{"datum":98.3},"y":{"field":"hi"},"y2":{"field":"lo"},"fill":{"condition":{"test":"datum.a=='in'","value":"#6CBF84"},"value":"#A9DDB5"}}},
{"data":{"name":"vol"},"mark":{"type":"rect","opacity":0.95},"encoding":{"x":{"field":"g"},"x2":{"field":"o"},"y":{"field":"hi"},"y2":{"field":"lo"},"fill":{"condition":{"test":"datum.a=='in'","value":"#F9AE3D"},"value":"#FBD49C"}}},
{"data":{"name":"ema89"},"mark":{"type":"line","color":"#B7ABDF","strokeWidth":1,"clip":true},"encoding":{"x":{"field":"t"},"y":{"field":"p"}}},
{"data":{"name":"ema9"},"mark":{"type":"line","color":"#82ACDF","strokeWidth":1,"clip":true},"encoding":{"x":{"field":"t"},"y":{"field":"p"}}},
{"data":{"values":[{}]},"mark":{"type":"rect","fill":"#2B3A67"},"encoding":{"x":{"datum":124.4},"x2":{"datum":185.5},"y":{"datum":4521},"y2":{"datum":4519.8}}},
{"data":{"values":[{"p":4483.7},{"p":4481.7}]},"mark":{"type":"rect","fill":"transparent","stroke":"#C6B8DE","strokeWidth":1},"encoding":{"x":{"datum":109},"x2":{"datum":208.3},"y":{"field":"p"},"y2":{"field":"p"}}},
{"data":{"values":[{}]},"mark":{"type":"rect","fill":"#FFFFF6","stroke":"#BFB2DC","strokeWidth":1},"encoding":{"x":{"datum":167.7},"x2":{"datum":261},"y":{"datum":4452.9},"y2":{"datum":4451.2}}},
{"data":{"name":"channel"},"mark":{"type":"area","color":"#5B8FDC","opacity":0.13},"encoding":{"x":{"field":"t"},"y":{"field":"p"},"y2":{"field":"q"}}},
{"data":{"values":[{"t":186.8,"p":4579.6},{"t":211.2,"p":4482.5}]},"mark":{"type":"line","color":"#B0CEEC","strokeWidth":0.8,"strokeDash":[3,3]},"encoding":{"x":{"field":"t"},"y":{"field":"p"}}},
{"data":{"values":[{"t":189.8,"p":4547},{"t":261,"p":4475.5}]},"mark":{"type":"line","color":"#7EA6E0","strokeWidth":0.8,"strokeDash":[3,3]},"encoding":{"x":{"field":"t"},"y":{"field":"p"}}},
{"data":{"name":"blue"},"mark":{"type":"line","color":"#4A80D8","strokeWidth":1.3},"encoding":{"x":{"field":"t"},"y":{"field":"p"},"detail":{"field":"id"},"order":{"field":"i"}}},
{"data":{"values":[{"t":141.3,"p":4483,"q":4462},{"t":186.6,"p":4452,"q":4462}]},"mark":{"type":"rule","color":"#6F9EDC","strokeWidth":0.8},"encoding":{"x":{"field":"t"},"y":{"field":"p"},"y2":{"field":"q"}}},
{"data":{"values":[{"t":141.3,"p":4483},{"t":186.6,"p":4452}]},"mark":{"type":"point","filled":true,"color":"#3F74C8","size":5,"opacity":1},"encoding":{"x":{"field":"t"},"y":{"field":"p"}}},
{"data":{"values":[{"t":137.3,"t2":145.3,"hi":4464.25,"lo":4456.95},{"t":182.7,"t2":190.6,"hi":4469.35,"lo":4462.05}]},"mark":{"type":"rect","fill":"#D1305E","cornerRadius":2,"stroke":"#C8B8E0","strokeWidth":0.6},"encoding":{"x":{"field":"t"},"x2":{"field":"t2"},"y":{"field":"hi"},"y2":{"field":"lo"}}},
{"data":{"values":[{"t":141.3,"p":4460.6,"l":"4.484,273"},{"t":186.6,"p":4465.7,"l":"4.453,536"}]},"mark":{"type":"text","color":"#ffffff","fontSize":5.4,"baseline":"middle"},"encoding":{"x":{"field":"t"},"y":{"field":"p"},"text":{"field":"l"}}},
{"data":{"values":[{"t":211.2,"p":4397}]},"mark":{"type":"point","filled":false,"color":"#B9A9DC","size":30,"strokeWidth":1.3,"opacity":1},"encoding":{"x":{"field":"t"},"y":{"field":"p"}}},
{"data":{"values":[{"t":245.9,"p":4397}]},"mark":{"type":"point","filled":true,"color":"#F4837D","size":42,"opacity":1},"encoding":{"x":{"field":"t"},"y":{"field":"p"}}},
{"data":{"values":[{"t":245.7,"p":4397.3}]},"mark":{"type":"point","filled":true,"color":"#5B92DC","size":12,"opacity":1},"encoding":{"x":{"field":"t"},"y":{"field":"p"}}},
{"data":{"values":[{"t":211.2,"p":4397,"l":"f"}]},"mark":{"type":"text","fontSize":5,"color":"#7E6BB0","baseline":"middle"},"encoding":{"x":{"field":"t"},"y":{"field":"p"},"text":{"field":"l"}}},
{"data":{"values":[{"t":-11.6,"p":4663.5,"l":"Emas / Dollar A.S. · 1h · OANDA"}]},"mark":{"type":"text","align":"left","baseline":"middle","fontSize":5,"fontWeight":"bold","color":"#3A4070"},"encoding":{"x":{"field":"t"},"y":{"field":"p"},"text":{"field":"l"}}},
{"data":{"values":[{"t":-11.6,"p":4657.7,"l":"EMA (9, close)"},{"t":-11.6,"p":4651.8,"l":"EMA (89, close)"}]},"mark":{"type":"text","align":"left","baseline":"middle","fontSize":4.8,"color":"#5D5F75"},"encoding":{"x":{"field":"t"},"y":{"field":"p"},"text":{"field":"l"}}},
{"data":{"name":"tags"},"mark":{"type":"rect","clip":false},"encoding":{"x":{"datum":286},"x2":{"datum":294.6},"y":{"field":"hi"},"y2":{"field":"lo"},"fill":{"condition":[{"test":"datum.k=='red'","value":"#F23645"},{"test":"datum.k=='navy'","value":"#3F5FA8"},{"test":"datum.k=='grey'","value":"#8F8488"},{"test":"datum.k=='blue'","value":"#2F7FC1"}],"value":"#26A69A"}}},
{"data":{"name":"tags"},"mark":{"type":"text","color":"#ffffff","fontSize":4.8,"baseline":"middle"},"encoding":{"x":{"datum":290.2},"y":{"field":"p"},"text":{"field":"l"}}},
{"data":{"values":[{}]},"mark":{"type":"rect","fill":"#F23645"},"encoding":{"x":{"datum":286},"x2":{"datum":294.6},"y":{"datum":4506.85},"y2":{"datum":4495.15}}},
{"data":{"values":[{"p":4501,"l":"4.504,125\n44:50"}]},"mark":{"type":"text","color":"#ffffff","fontSize":4.8,"lineBreak":"\n","baseline":"middle","dy":-3},"encoding":{"x":{"datum":290.2},"y":{"field":"p"},"text":{"field":"l"}}},
{"data":{"values":[{}]},"mark":{"type":"rect","fill":"#F23645"},"encoding":{"x":{"datum":279.6},"x2":{"datum":285.8},"y":{"datum":4506.84},"y2":{"datum":4501.36}}},
{"data":{"values":[{"l":"XAUUSD"}]},"mark":{"type":"text","color":"#ffffff","fontSize":5,"baseline":"middle"},"encoding":{"x":{"datum":282.7},"y":{"datum":4504.1},"text":{"field":"l"}}},
{"data":{"values":[{}]},"mark":{"type":"rect","fill":"#ffffff","cornerRadius":2},"encoding":{"x":{"datum":286.5},"x2":{"datum":294.6},"y":{"datum":4667.5},"y2":{"datum":4659}}},
{"data":{"values":[{"l":"USD"}]},"mark":{"type":"text","color":"#444","fontSize":5.4,"baseline":"middle"},"encoding":{"x":{"datum":290.2},"y":{"datum":4663},"text":{"field":"l"}}}
]},
{"width":904,"height":66,"encoding":{"x":{"type":"quantitative","title":null,"axis":null,"scale":{"domain":[-12.54,285.8],"nice":false,"zero":false}},"y":{"type":"quantitative","title":null,"scale":{"domain":[-1.19,1.26],"nice":false,"zero":false},"axis":{"orient":"right","zindex":1,"values":[1,0.5,0,-1],"labelExpr":"replace(format(datum.value,'.2f'),'.',',')"}}},
"layer":[
{"data":{"values":[{}]},"mark":{"type":"rect","clip":false,"fill":{"gradient":"linear","x1":0,"y1":0,"x2":0,"y2":1,"stops":[{"offset":0,"color":"#FFF8C6"},{"offset":1,"color":"#FFFFF6"}]}},"encoding":{"x":{"datum":-12.54},"x2":{"datum":295},"y":{"datum":1.26},"y2":{"datum":-1.19}}},
{"data":{"values":[{}]},"mark":{"type":"rect","fill":"transparent","stroke":"#D9E0CC","strokeWidth":1},"encoding":{"x":{"datum":-12.54},"x2":{"datum":285.8},"y":{"datum":1},"y2":{"datum":1}}},
{"data":{"values":[{}]},"mark":{"type":"rect","fill":"transparent","stroke":"#F9D5CB","strokeWidth":1},"encoding":{"x":{"datum":-12.54},"x2":{"datum":285.8},"y":{"datum":-1},"y2":{"datum":-1}}},
{"data":{"values":[{"v":0.5},{"v":-0.5}]},"mark":{"type":"rect","fill":"transparent","stroke":"#D5D8C8","strokeWidth":0.8,"strokeDash":[2,3]},"encoding":{"x":{"datum":-12.54},"x2":{"datum":285.8},"y":{"field":"v"},"y2":{"field":"v"}}},
{"data":{"name":"osc"},"mark":{"type":"rule","strokeWidth":2.4},"encoding":{"x":{"field":"t"},"y":{"field":"v"},"y2":{"datum":0},"color":{"condition":[{"test":"datum.v<=-0.5","value":"#F6443F"},{"test":"datum.v<0","value":"#F98E84"},{"test":"datum.v>=0.48","value":"#4E8FD8"}],"value":"#7FA8E2"}}},
{"data":{"name":"cells"},"mark":{"type":"rect"},"encoding":{"x":{"field":"t"},"x2":{"field":"t2"},"y":{"field":"v"},"y2":{"field":"v2"},"fill":{"condition":[{"test":"datum.k=='nav'","value":"#3A5A9E"},{"test":"datum.k=='ss'","value":"#F23645"},{"test":"datum.k=='buy'","value":"#79A3E0"},{"test":"datum.k=='sell'","value":"#EFA3A3"},{"test":"datum.k=='neu'","value":"#B2AED2"}],"value":"#2E86B8"}}},
{"data":{"name":"cells"},"mark":{"type":"text","color":"#ffffff","fontSize":4.2,"lineBreak":"\n","lineHeight":4.6,"baseline":"middle"},"encoding":{"x":{"field":"tc"},"y":{"field":"vc"},"text":{"field":"l"}}},
{"data":{"values":[{"t":-11.6,"v":1,"l":"Teknikal (, All, 60, 240, 1D, 1W, 1M)"}]},"mark":{"type":"text","align":"left","baseline":"middle","fontSize":5,"color":"#5D5F75"},"encoding":{"x":{"field":"t"},"y":{"field":"v"},"text":{"field":"l"}}},
{"data":{"values":[{}]},"mark":{"type":"rect","fill":"#F23645"},"encoding":{"x":{"datum":286.3},"x2":{"datum":294.6},"y":{"datum":-0.24},"y2":{"datum":-0.52}}},
{"data":{"values":[{"l":"-0,38"}]},"mark":{"type":"text","color":"#ffffff","fontSize":5.4,"baseline":"middle"},"encoding":{"x":{"datum":290.2},"y":{"datum":-0.38},"text":{"field":"l"}}}
]},
{"width":904,"height":90,"encoding":{"x":{"type":"quantitative","title":null,"scale":{"domain":[-12.54,285.8],"nice":false,"zero":false},"axis":{"orient":"bottom","zindex":1,"tickSize":0,"labelPadding":3,"labelFontSize":5.6,"values":[0,23,46,70,93,117,140,162,185,208,232,257,281],"labelExpr":"({'0':'14','23':'15','46':'17','70':'19','93':'20','117':'21','140':'22','162':'24','185':'26','208':'27','232':'28','257':'29','281':'Jun'})[datum.value]"}},"y":{"type":"quantitative","title":null,"scale":{"domain":[13,75.6],"nice":false,"zero":false},"axis":{"orient":"right","zindex":1,"values":[70,60,50,30,20],"labelExpr":"replace(format(datum.value,'.2f'),'.',',')"}}},
"layer":[
{"data":{"values":[{}]},"mark":{"type":"rect","clip":false,"fill":{"gradient":"linear","x1":0,"y1":0,"x2":0,"y2":1,"stops":[{"offset":0,"color":"#FFF8C6"},{"offset":1,"color":"#FFFFF6"}]}},"encoding":{"x":{"datum":-12.54},"x2":{"datum":295},"y":{"datum":75.6},"y2":{"datum":13}}},
{"data":{"values":[{}]},"mark":{"type":"rect","fill":"#7E57C2","opacity":0.09},"encoding":{"x":{"datum":-12.54},"x2":{"datum":285.8},"y":{"datum":70},"y2":{"datum":30}}},
{"data":{"values":[{"v":70},{"v":50},{"v":30}]},"mark":{"type":"rect","fill":"transparent","stroke":"#A9A89C","strokeWidth":0.8,"strokeDash":[2,2.5]},"encoding":{"x":{"datum":-12.54},"x2":{"datum":285.8},"y":{"field":"v"},"y2":{"field":"v"}}},
{"data":{"name":"oversold"},"mark":{"type":"area","color":"#F9B7A8","opacity":0.6},"encoding":{"x":{"field":"t"},"y":{"field":"v"},"y2":{"datum":30}}},
{"data":{"name":"signal"},"mark":{"type":"line","color":"#F0D68A","strokeWidth":1},"encoding":{"x":{"field":"t"},"y":{"field":"v"}}},
{"data":{"name":"rsi"},"mark":{"type":"line","color":"#B7ABDF","strokeWidth":1},"encoding":{"x":{"field":"t"},"y":{"field":"v"}}},
{"data":{"values":[{"t":-11.6,"v":70.6,"l":"RSI (14, close)"}]},"mark":{"type":"text","align":"left","baseline":"middle","fontSize":4.8,"color":"#5D5F75"},"encoding":{"x":{"field":"t"},"y":{"field":"v"},"text":{"field":"l"}}},
{"data":{"values":[{}]},"mark":{"type":"rect","fill":"#F9AE3D"},"encoding":{"x":{"datum":286},"x2":{"datum":294.6},"y":{"datum":38.1},"y2":{"datum":32.9}}},
{"data":{"values":[{}]},"mark":{"type":"rect","fill":"#3F5FA8"},"encoding":{"x":{"datum":286},"x2":{"datum":294.6},"y":{"datum":43.1},"y2":{"datum":37.9}}},
{"data":{"values":[{"v":40.5,"l":"40,45"},{"v":35.5,"l":"41,53"}]},"mark":{"type":"text","color":"#ffffff","fontSize":5.4,"baseline":"middle"},"encoding":{"x":{"datum":290.2},"y":{"field":"v"},"text":{"field":"l"}}}
]}
]}
